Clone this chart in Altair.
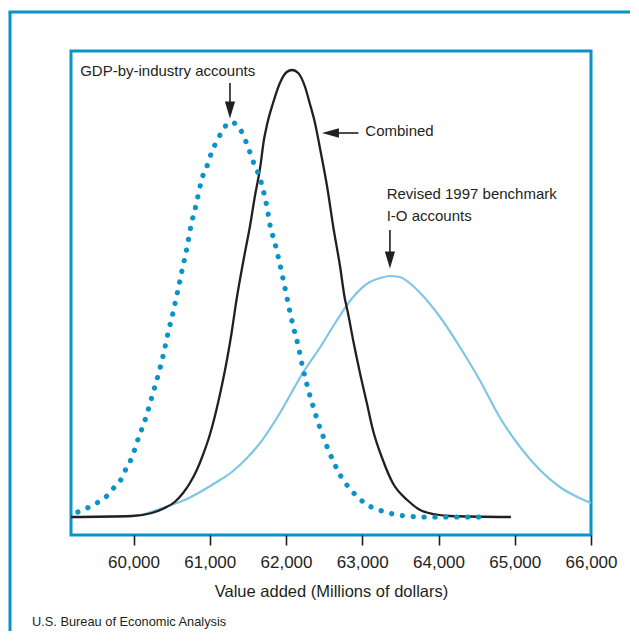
import altair as alt
import pandas as pd

# ---- data (x in millions of dollars, h = relative density height) ----
gdp_x = [59270, 59420, 59540, 59650, 59740, 59840, 59900, 59970, 60060, 60160, 60240, 60320,
         60390, 60450, 60520, 60580, 60640, 60700, 60750, 60820, 60880, 60920, 60980, 61020,
         61080, 61150, 61230, 61290, 61360, 61440, 61490, 61540, 61590, 61650, 61690, 61750,
         61800, 61840, 61910, 61970, 62030, 62090, 62160, 62220, 62290, 62370, 62410, 62460,
         62510, 62560, 62620, 62680, 62760, 62840, 62940, 63050, 63180, 63310, 63450, 63600,
         63730, 64030, 64300, 64600]
gdp_h = [5, 10, 15, 21, 29, 38, 48, 58, 78, 99, 120, 141,
         162, 183, 205, 226, 248, 269, 290, 312, 333, 344, 354, 364,
         374, 384, 393, 395, 391, 382, 372, 362, 351, 341, 330, 310,
         288, 278, 256, 235, 213, 192, 171, 149, 128, 107, 97, 86,
         76, 66, 56, 46, 36, 28, 20, 13, 8, 5, 2, 1,
         0, 0, 0, 0]

comb_x = [59180, 59980, 60240, 60410, 60540, 60650, 60740, 60830, 60910, 61000, 61090, 61160,
          61230, 61290, 61340, 61460, 61530, 61590, 61660, 61710, 61750, 61830, 61920, 62010,
          62080, 62160, 62250, 62310, 62380, 62450, 62540, 62620, 62710, 62770, 62810, 62880,
          62970, 63060, 63140, 63270, 63400, 63590, 63760, 63930, 64150, 64950]
comb_h = [0, 1, 4, 9, 15, 24, 34, 47, 62, 82, 108, 132,
          159, 186, 212, 264, 292, 320, 349, 377, 392, 414, 434, 445,
          447, 444, 430, 414, 394, 367, 330, 290, 250, 219, 205, 177,
          144, 114, 87, 57, 34, 17, 7, 3, 1, 0]

rev_x = [59180, 59980, 60190, 60410, 60640, 60850, 61070, 61290, 61500, 61660, 61920, 62220,
         62450, 62670, 62880, 63100, 63240, 63360, 63490, 63620, 63760, 64020, 64280, 64540,
         64800, 65070, 65330, 65590, 65850, 66000]
rev_h = [0, 1, 4, 10, 16, 24, 34, 45, 60, 74, 104, 144,
         170, 197, 220, 235, 239, 241, 240, 234, 224, 200, 170, 137,
         100, 70, 47, 30, 19, 14]

tick_values = [60000, 61000, 62000, 63000, 64000, 65000, 66000]
x_title = "Value added (Millions of dollars)"
source = "U.S. Bureau of Economic Analysis"

ann_text = ["GDP-by-industry accounts", "Combined", "Revised 1997 benchmark", "I-O accounts"]
ann_x = [59300, 63040, 63320, 63320]
ann_h = [446, 386, 323, 301]

shaft_x = [61265, 62583, 63363]
shaft_x2 = [61265, 62950, 63363]
shaft_h = [434, 384, 287]
shaft_h2 = [410, 384, 262]

head_x = [61265, 62583, 63363]
head_h = [407, 384, 257]
head_shape = ["M-0.6,-1L0.6,-1L0,1Z", "M1,-0.55L1,0.55L-1,0Z", "M-0.6,-1L0.6,-1L0,1Z"]

# ---- styling ----
INK = "#231f20"
BLUE = "#0a93c9"
LIGHT = "#7fc6e6"
FONT = "Liberation Sans"

xscale = alt.Scale(domain=[59180, 66000], nice=False, zero=False)
yscale = alt.Scale(domain=[-18, 466], nice=False, zero=False)
xaxis = alt.Axis(values=tick_values, format=",d", title=x_title, grid=False, domain=False,
                 tickSize=10, tickWidth=1.6, tickColor=INK, labelFontSize=17, labelColor=INK,
                 labelFont=FONT, labelPadding=9, titleFont=FONT, titleFontSize=16.5,
                 titleFontWeight="normal", titleColor=INK, titlePadding=13,
                 labelOverlap=False, labelFlush=False)

def X(field="x"):
    return alt.X(f"{field}:Q", scale=xscale, axis=xaxis)

def Y(field="h"):
    return alt.Y(f"{field}:Q", scale=yscale, axis=None)

rev_df = pd.DataFrame({"x": rev_x, "h": rev_h})
comb_df = pd.DataFrame({"x": comb_x, "h": comb_h})
gdp_df = pd.DataFrame({"x": gdp_x, "h": gdp_h})

rev = alt.Chart(rev_df).mark_line(color=LIGHT, strokeWidth=2.2, interpolate="monotone").encode(
    x=X(), y=Y())
comb = alt.Chart(comb_df).mark_line(color=INK, strokeWidth=2.3, interpolate="monotone").encode(
    x=X(), y=Y())
gdp = alt.Chart(gdp_df).mark_line(color=BLUE, strokeWidth=5.2, strokeCap="round",
                                  strokeDash=[0.1, 10.8], interpolate="monotone").encode(
    x=X(), y=Y())

shaft_df = pd.DataFrame({"x": shaft_x, "x2": shaft_x2, "h": shaft_h, "h2": shaft_h2})
shafts = alt.Chart(shaft_df).mark_rule(color=INK, strokeWidth=1.6).encode(
    x=X(), x2="x2:Q", y=Y(), y2="h2:Q")

head_df = pd.DataFrame({"x": head_x, "h": head_h, "shape": head_shape})
heads = alt.Chart(head_df).mark_point(filled=True, color=INK, opacity=1, size=289,
                                      strokeWidth=0).encode(
    x=X(), y=Y(), shape=alt.Shape("shape:N", scale=None, legend=None))

ann_df = pd.DataFrame({"x": ann_x, "h": ann_h, "t": ann_text})
anns = alt.Chart(ann_df).mark_text(align="left", baseline="middle", font=FONT, fontSize=15,
                                   color=INK).encode(x=X(), y=Y(), text="t:N")

frame_df = pd.DataFrame({"k": [0]})
frame_left = alt.Chart(frame_df).mark_rule(color=BLUE, strokeWidth=3).encode(
    x=alt.value(-61), y=alt.value(-39), y2=alt.value(600))
frame_top = alt.Chart(frame_df).mark_rule(color=BLUE, strokeWidth=3).encode(
    x=alt.value(-62.5), x2=alt.value(600), y=alt.value(-39))
src = alt.Chart(pd.DataFrame({"t": [source]})).mark_text(
    align="left", baseline="middle", font=FONT, fontSize=12.8, color=INK).encode(
    x=alt.value(-39), y=alt.value(571), text="t:N")

chart = alt.layer(rev, comb, gdp, shafts, heads, anns, frame_left, frame_top, src).properties(
    width=520, height=484,
    padding={"left": 63, "top": 43, "right": 39, "bottom": 96},
    autosize=alt.AutoSizeParams(type="none"),
    background="white",
).configure_view(stroke=BLUE, strokeWidth=3)

chart.save("out.html", embed_options={"renderer": "svg", "actions": False})
